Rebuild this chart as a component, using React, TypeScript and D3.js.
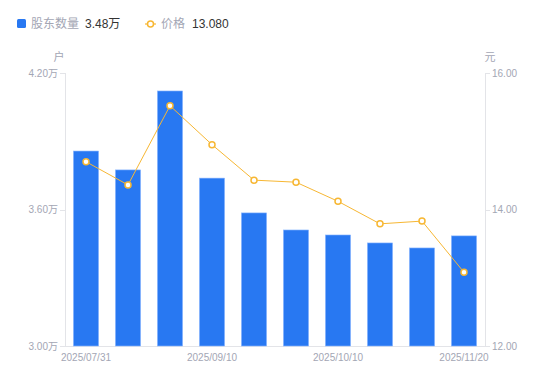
import React from "react";
import * as d3 from "d3";

const dates = ["2025/07/31", "2025/08/15", "2025/08/29", "2025/09/10", "2025/09/19", "2025/09/30", "2025/10/10", "2025/10/20", "2025/10/31", "2025/11/20"];
const holders = [3.857, 3.774, 4.121, 3.738, 3.585, 3.51, 3.488, 3.453, 3.431, 3.484];
const prices = [14.7, 14.36, 15.52, 14.95, 14.43, 14.4, 14.12, 13.79, 13.83, 13.08];
const leftTicks = [3.0, 3.6, 4.2];
const rightTicks = [12, 14, 16];
const xLabelIdx = [0, 3, 6, 9];

const W = 550, H = 381;
const L = 65, R = 485, T = 73, B = 346;
const FONT = "'Liberation Sans', Arial, 'Noto Sans CJK SC', sans-serif";
const GREY = "#a3a6b4";
const AXIS = "#e3e4e8";
const BLUE = "#2878f2";
const ORANGE = "#f7b733";

export default function App() {
  const x = d3.scaleBand<string>().domain(dates).range([L, R]).paddingInner(0.4).paddingOuter(0.2);
  const yL = d3.scaleLinear().domain([3.0, 4.2]).range([B, T]);
  const yR = d3.scaleLinear().domain([12, 16]).range([B, T]);
  const cx = (d: string) => (x(d) ?? 0) + x.bandwidth() / 2;
  const line = d3.line<number>().x((_, i) => cx(dates[i])).y((v) => yR(v));

  return (
    <svg width={W} height={H} style={{ position: "absolute", left: 0, top: 0 }} fontFamily={FONT}>
      <rect width={W} height={H} fill="#fff" />
      {/* legend */}
      <rect x={17} y={19} width={9} height={9} rx={1.5} fill={BLUE} />
      <text x={31} y={28} fontSize={12} fill={GREY}>股东数量</text>
      <text x={85} y={28} fontSize={12} fill="#333">3.48万</text>
      <line x1={145} x2={156} y1={24} y2={24} stroke={ORANGE} strokeWidth={1.2} />
      <circle cx={150.5} cy={24} r={3} fill="#fff" stroke={ORANGE} strokeWidth={1.5} />
      <text x={161} y={28} fontSize={12} fill={GREY}>价格</text>
      <text x={192} y={28} fontSize={12} fill="#333">13.080</text>

      {/* axis names */}
      <text x={59} y={61} fontSize={11} fill={GREY} textAnchor="middle">户</text>
      <text x={490} y={61} fontSize={11} fill={GREY} textAnchor="middle">元</text>

      {/* axes lines */}
      <line x1={L + 0.5} x2={L + 0.5} y1={T} y2={B} stroke={AXIS} />
      <line x1={R + 0.5} x2={R + 0.5} y1={T} y2={B} stroke={AXIS} />
      <line x1={L} x2={R} y1={B + 0.5} y2={B + 0.5} stroke={AXIS} />

      {leftTicks.map((t) => (
        <g key={"l" + t}>
          <line x1={L - 5} x2={L} y1={Math.round(yL(t)) + 0.5} y2={Math.round(yL(t)) + 0.5} stroke={AXIS} />
          <text x={L - 7} y={yL(t) + 3.5} fontSize={10} fill={GREY} textAnchor="end">{t.toFixed(2) + "万"}</text>
        </g>
      ))}
      {rightTicks.map((t) => (
        <g key={"r" + t}>
          <line x1={R} x2={R + 5} y1={Math.round(yR(t)) + 0.5} y2={Math.round(yR(t)) + 0.5} stroke={AXIS} />
          <text x={R + 7} y={yR(t) + 3.5} fontSize={10} fill={GREY}>{t.toFixed(2)}</text>
        </g>
      ))}
      {xLabelIdx.map((i) => (
        <text key={"x" + i} x={cx(dates[i])} y={361} fontSize={10} fill={GREY} textAnchor="middle">{dates[i]}</text>
      ))}

      {/* bars */}
      {holders.map((v, i) => (
        <rect key={"b" + i} x={x(dates[i])} y={yL(v)} width={x.bandwidth()} height={B - yL(v)} fill={BLUE} stroke="#8db8ff" strokeWidth={0.6} />
      ))}

      {/* price line */}
      <path d={line(prices) ?? ""} fill="none" stroke={ORANGE} strokeWidth={1} />
      {prices.map((v, i) => (
        <circle key={"p" + i} cx={cx(dates[i])} cy={yR(v)} r={3} fill="#fff" stroke={ORANGE} strokeWidth={1.5} />
      ))}
    </svg>
  );
}
